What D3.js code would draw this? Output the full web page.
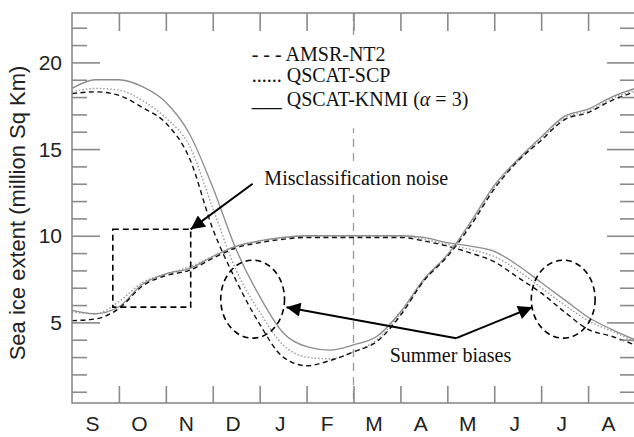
<!DOCTYPE html>
<html>
<head>
<meta charset="utf-8">
<script src="https://cdn.jsdelivr.net/npm/d3@7"></script>
<style>
    body { margin: 0; background: #fff; }
    .axis-label { font-family: "Liberation Sans", Arial, sans-serif; fill: #222; }
    .note { font-family: "Liberation Serif", "Times New Roman", serif; font-size: 20px; fill: #111; }
</style>
</head>
<body>
<svg id="chart" width="634" height="437"></svg>
<script>
// sample positions, in months since 1 September
const sampleMonths = [0, 0.5, 1, 1.5, 2, 2.5, 3, 3.5, 4, 4.5, 5, 5.5, 6, 6.5, 7, 7.5, 8, 8.5, 9, 9.5, 10, 10.5, 11, 11.5, 12];
const monthLabels = ['S', 'O', 'N', 'D', 'J', 'F', 'M', 'A', 'M', 'J', 'J', 'A'];
const majorTicks = [5, 10, 15, 20];
const minorTicks = [1, 2, 3, 4, 6, 7, 8, 9, 11, 12, 13, 14, 16, 17, 18, 19, 21, 22];

// southern hemisphere (high in September)
const shAmsr = [18.2, 18.3, 18.1, 17.4, 16.5, 14.5, 10.4, 7.4, 4.9, 3.0, 2.5, 2.8, 3.3, 3.9, 5.4, 7.4, 8.8, 10.6, 12.7, 14.3, 15.5, 16.7, 17.1, 17.8, 18.3];
const shScp = [18.3, 18.5, 18.4, 17.8, 16.8, 15.2, 11.6, 8.0, 5.6, 3.7, 3.0, 2.9, 3.3, 4.0, 5.5, 7.4, 8.9, 10.7, 12.8, 14.3, 15.6, 16.8, 17.2, 17.9, 18.4];
const shKnmi = [18.5, 19.0, 19.0, 18.6, 17.7, 15.9, 12.8, 9.2, 6.5, 4.4, 3.6, 3.4, 3.7, 4.2, 5.6, 7.5, 8.9, 10.8, 12.9, 14.4, 15.7, 16.9, 17.3, 18.0, 18.5];

// northern hemisphere (low in September)
const nhAmsr = [5.1, 5.2, 5.8, 7.1, 7.7, 8.0, 8.7, 9.3, 9.6, 9.8, 9.9, 9.9, 9.9, 9.9, 9.9, 9.7, 9.4, 9.0, 8.5, 7.6, 6.7, 5.6, 4.6, 4.2, 3.7];
const nhScp = [5.6, 5.5, 6.2, 7.3, 7.8, 8.2, 8.8, 9.4, 9.7, 9.9, 10.0, 10.0, 10.0, 10.0, 10.0, 9.8, 9.5, 9.2, 8.8, 8.0, 7.0, 6.0, 5.1, 4.5, 3.9];
const nhKnmi = [5.7, 5.5, 5.9, 7.2, 7.8, 8.1, 8.8, 9.4, 9.7, 9.9, 10.0, 10.0, 10.0, 10.0, 10.0, 9.9, 9.6, 9.4, 9.1, 8.3, 7.3, 6.3, 5.3, 4.6, 4.0];

const svg = d3.select('#chart');
const x = d3.scaleLinear().domain([0, 12]).range([72, 635]);
const y = d3.scaleLinear().domain([0.35, 22.85]).range([403, 13]);
const frameColor = '#8a8a8a';

// dashed separator at 1 March
svg.append('line')
    .attr('x1', x(6)).attr('x2', x(6))
    .attr('y1', y.range()[1]).attr('y2', y.range()[0])
    .attr('stroke', '#999').attr('stroke-width', 1.3)
    .attr('stroke-dasharray', '8,6');

// series
const styles = {
    amsr: { stroke: '#111', dash: '5,3.5', width: 1.4 },
    scp: { stroke: '#999', dash: '1.5,2', width: 1.4 },
    knmi: { stroke: '#8c8c8c', dash: null, width: 1.3 }
};
const series = [
    { key: 'scp', values: nhScp }, { key: 'knmi', values: nhKnmi }, { key: 'amsr', values: nhAmsr },
    { key: 'scp', values: shScp }, { key: 'knmi', values: shKnmi }, { key: 'amsr', values: shAmsr }
];
const line = d3.line()
    .x((d, i) => x(sampleMonths[i]))
    .y(d => y(d))
    .curve(d3.curveMonotoneX);

svg.append('g').selectAll('path')
    .data(series)
    .enter()
    .append('path')
    .attr('d', s => line(s.values))
    .attr('fill', 'none')
    .attr('stroke', s => styles[s.key].stroke)
    .attr('stroke-width', s => styles[s.key].width)
    .attr('stroke-dasharray', s => styles[s.key].dash);

// frame and ticks
svg.append('rect')
    .attr('x', x(0)).attr('y', y.range()[1])
    .attr('width', x(12) - x(0)).attr('height', y.range()[0] - y.range()[1])
    .attr('fill', 'none').attr('stroke', frameColor).attr('stroke-width', 1.6);

function tickAxis(axis, tx, ty, size, values) {
    const g = svg.append('g')
        .attr('transform', `translate(${tx},${ty})`)
        .call(axis.tickValues(values).tickSize(size).tickFormat(''));
    g.select('.domain').remove();
    g.selectAll('line').attr('stroke', frameColor).attr('stroke-width', 1.6);
}
tickAxis(d3.axisRight(y), x(0), 0, 28, majorTicks);
tickAxis(d3.axisRight(y), x(0), 0, 15, minorTicks);
tickAxis(d3.axisLeft(y), x(12), 0, 28, majorTicks);
tickAxis(d3.axisLeft(y), x(12), 0, 15, minorTicks);
const monthEdges = [1, 2, 3, 4, 5, 6, 7, 8, 9, 10, 11];
tickAxis(d3.axisBottom(x), 0, y.range()[1], 18, monthEdges);
tickAxis(d3.axisTop(x), 0, y.range()[0], 17, monthEdges);

// y tick labels
svg.append('g').selectAll('text')
    .data(majorTicks)
    .enter()
    .append('text')
    .attr('class', 'axis-label')
    .attr('x', x(0) - 10)
    .attr('y', d => y(d))
    .attr('dy', '0.36em')
    .attr('text-anchor', 'end')
    .attr('font-size', 21)
    .text(d => d);

// month labels
svg.append('g').selectAll('text')
    .data(monthLabels)
    .enter()
    .append('text')
    .attr('class', 'axis-label')
    .attr('x', (d, i) => x(i + 0.5) - 3)
    .attr('y', 431)
    .attr('text-anchor', 'middle')
    .attr('font-size', 21)
    .text(d => d);

svg.append('text')
    .attr('class', 'axis-label')
    .attr('transform', `translate(25,${(y(0.35) + y(22.85)) / 2 + 5}) rotate(-90)`)
    .attr('text-anchor', 'middle')
    .attr('font-size', 22)
    .text('Sea ice extent (million Sq Km)');

// legend
const legendRows = [
    { mark: '- - - ', name: 'AMSR-NT2', v: 20.1 },
    { mark: '...... ', name: 'QSCAT-SCP', v: 18.85 },
    { mark: '___ ', name: 'QSCAT-KNMI (', v: 17.5, tail: true }
];
svg.append('rect')
    .attr('x', x(3.8)).attr('y', y(21.3))
    .attr('width', x(8.9) - x(3.8)).attr('height', y(16.2) - y(21.3))
    .attr('fill', '#fff');
const legend = svg.append('g').selectAll('text')
    .data(legendRows)
    .enter()
    .append('text')
    .attr('class', 'note')
    .attr('x', x(3.83))
    .attr('y', d => y(d.v));
legend.append('tspan').text(d => d.mark + d.name);
legend.filter(d => d.tail).append('tspan').attr('font-style', 'italic').text('\u03b1');
legend.filter(d => d.tail).append('tspan').text(' = 3)');

// annotations
const annot = svg.append('g');
svg.append('defs').append('marker')
    .attr('id', 'head')
    .attr('viewBox', '0 0 10 10')
    .attr('refX', 10).attr('refY', 5)
    .attr('markerWidth', 8).attr('markerHeight', 7)
    .attr('markerUnits', 'strokeWidth')
    .attr('orient', 'auto')
    .append('path').attr('d', 'M0,0L10,5L0,10Z').attr('fill', '#000');

annot.append('rect')
    .attr('x', x(0.87)).attr('y', y(10.37))
    .attr('width', x(2.53) - x(0.87)).attr('height', y(5.88) - y(10.37))
    .attr('fill', 'none').attr('stroke', '#000').attr('stroke-width', 1.6)
    .attr('stroke-dasharray', '6,4');

annot.selectAll('ellipse')
    .data([3.85, 10.47])
    .enter()
    .append('ellipse')
    .attr('cx', d => x(d)).attr('cy', y(6.34))
    .attr('rx', x(0.68) - x(0)).attr('ry', y(4.09) - y(6.34))
    .attr('fill', 'none').attr('stroke', '#000').attr('stroke-width', 1.6)
    .attr('stroke-dasharray', '6,4');

const misText = annot.append('text').attr('class', 'note')
    .attr('x', x(4.1)).attr('y', y(12.9))
    .text('Misclassification noise');
const sumText = annot.append('text').attr('class', 'note')
    .attr('x', x(6.77)).attr('y', y(2.7))
    .text('Summer biases');
[misText, sumText].forEach(t => {
    const b = t.node().getBBox();
    annot.insert('rect', 'text')
        .attr('x', b.x - 3).attr('y', b.y - 2)
        .attr('width', b.width + 6).attr('height', b.height + 4)
        .attr('fill', '#fff');
});

const arrows = [
    [[3.85, 13.0], [2.53, 10.37]],
    [[8.19, 4.09], [4.57, 5.88]],
    [[8.19, 4.09], [9.81, 5.88]]
];
annot.selectAll('line.arrow')
    .data(arrows)
    .enter()
    .append('line')
    .attr('class', 'arrow')
    .attr('x1', d => x(d[0][0])).attr('y1', d => y(d[0][1]))
    .attr('x2', d => x(d[1][0])).attr('y2', d => y(d[1][1]))
    .attr('stroke', '#000').attr('stroke-width', 2)
    .attr('marker-end', 'url(#head)');
</script>
</body>
</html>
